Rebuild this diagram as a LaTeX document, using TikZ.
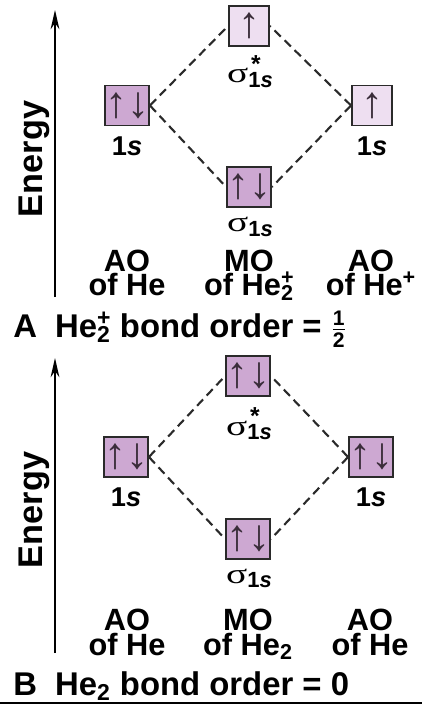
\documentclass[tikz,border=0pt]{standalone}
\usepackage{fontspec}
\usepackage{graphicx}
\setmainfont{Liberation Sans}
\newfontfamily\sigfont{Liberation Serif}
\newfontfamily\frecfont{Liberation Sans}
\usetikzlibrary{arrows.meta}

\definecolor{orbpieno}{HTML}{CDA8D2}
\definecolor{orbmezzo}{HTML}{EEDFF1}
\definecolor{tratto}{HTML}{2A2A2A}
\definecolor{freccia}{HTML}{3A2D3A}

% sigma con pedice 1s (e asterisco facoltativo)
\newcommand{\sorb}[1]{{\sigfont\fontsize{16}{16}\selectfont\scalebox{1.4}[1]{σ}}%
  \makebox[0pt][l]{\raisebox{1.15ex}{\kern0.15em\fontsize{14}{14}\selectfont\bfseries #1}}%
  \raisebox{-0.45ex}{\fontsize{12.5}{12.5}\selectfont\bfseries 1\textit{s}}}
% He con pedice 2 (ed esponente facoltativo)
\newcommand{\Hedue}[1]{He\rlap{\textsuperscript{#1}}\textsubscript{2}}

\begin{document}
\begin{tikzpicture}[
  x=0.02cm, y=-0.02cm,
  orbitale/.style={draw=tratto, line width=1.1pt, minimum size=0.8cm, inner sep=0pt,
                   text=freccia, font=\frecfont\fontsize{25}{25}\selectfont},
  pieno/.style={orbitale, fill=orbpieno},
  semipieno/.style={orbitale, fill=orbmezzo},
  legame/.style={draw=tratto, line width=1.2pt, dash pattern=on 5pt off 3pt},
  asse/.style={draw=black, line width=1.1pt, -{Stealth[length=11pt, width=5pt]}},
  etichetta/.style={font=\bfseries\fontsize{17.5}{14.2}\selectfont, align=center, inner sep=0pt, anchor=base},
  livello/.style={font=\bfseries\fontsize{15.5}{16}\selectfont, inner sep=0pt},
  sigma/.style={inner sep=0pt, anchor=base},
  energia/.style={rotate=90, anchor=base, inner sep=0pt, font=\bfseries\fontsize{19.5}{20}\selectfont},
  didascalia/.style={anchor=base west, inner sep=0pt, font=\bfseries\fontsize{18.7}{19}\selectfont}
]
\useasboundingbox (0,0) rectangle (422,705);

% ---- pannello A: He2+ -------------------------------------------------
\coordinate (asseAbasso) at (55,297);
\coordinate (asseAalto)  at (55,10);
\draw[asse] (asseAbasso) -- (asseAalto);
\node[energia] (energiaA) at (42,159) {Energy};

\node[pieno]     (aoAsx) at (127,105.5) {↑↓};
\node[semipieno] (moAsu) at (249,26)    {↑};
\node[pieno]     (moAgiu) at (249,187)  {↑↓};
\node[semipieno] (aoAdx) at (372,105.5) {↑};

\draw[legame] (aoAsx.east) -- (moAsu.west);
\draw[legame] (aoAsx.east) -- (moAgiu.west);
\draw[legame] (aoAdx.west) -- (moAsu.east);
\draw[legame] (aoAdx.west) -- (moAgiu.east);

\node[livello] (unoAsx) at (127,146) {1\textit{s}};
\node[livello] (unoAdx) at (372,146) {1\textit{s}};
\node[sigma] (sigAsu)  at (250,83)  {\sorb{*}};
\node[sigma] (sigAgiu) at (250,232) {\sorb{}};

% l'ancora base cade sulla seconda riga
\node[etichetta] (etAsx) at (127,296) {AO\\of He};
\node[etichetta] (etAmo) at (249,296) {MO\\of \Hedue{+}};
\node[etichetta] (etAdx) at (371,296) {AO\\of He\textsuperscript{+}};

\node[didascalia] (didA) at (13,337)
  {A\kern0.55em\Hedue{+} bond order = $\frac{\mbox{\fontsize{12}{12}\selectfont 1}}{\mbox{\fontsize{12}{12}\selectfont 2}}$};

% ---- pannello B: He2 --------------------------------------------------
\coordinate (asseBbasso) at (55,653);
\coordinate (asseBalto)  at (55,358);
\draw[asse] (asseBbasso) -- (asseBalto);
\node[energia] (energiaB) at (42,510) {Energy};

\node[pieno] (aoBsx)  at (126,457) {↑↓};
\node[pieno] (moBsu)  at (248,376) {↑↓};
\node[pieno] (moBgiu) at (248,539) {↑↓};
\node[pieno] (aoBdx)  at (371,457) {↑↓};

\draw[legame] (aoBsx.east) -- (moBsu.west);
\draw[legame] (aoBsx.east) -- (moBgiu.west);
\draw[legame] (aoBdx.west) -- (moBsu.east);
\draw[legame] (aoBdx.west) -- (moBgiu.east);

\node[livello] (unoBsx) at (126,497) {1\textit{s}};
\node[livello] (unoBdx) at (371,497) {1\textit{s}};
\node[sigma] (sigBsu)  at (249,435) {\sorb{*}};
\node[sigma] (sigBgiu) at (249,583) {\sorb{}};

\node[etichetta] (etBsx) at (127,655) {AO\\of He};
\node[etichetta] (etBmo) at (248,655) {MO\\of He\textsubscript{2}};
\node[etichetta] (etBdx) at (370,655) {AO\\of He};

\node[didascalia] (didB) at (13,695) {B\kern0.55em He\textsubscript{2} bond order = 0};

% ---- filo in basso ----------------------------------------------------
\coordinate (filosx) at (0,703);
\coordinate (filodx) at (422,703);
\draw[line width=1.1pt] (filosx) -- (filodx);

\end{tikzpicture}
\end{document}
